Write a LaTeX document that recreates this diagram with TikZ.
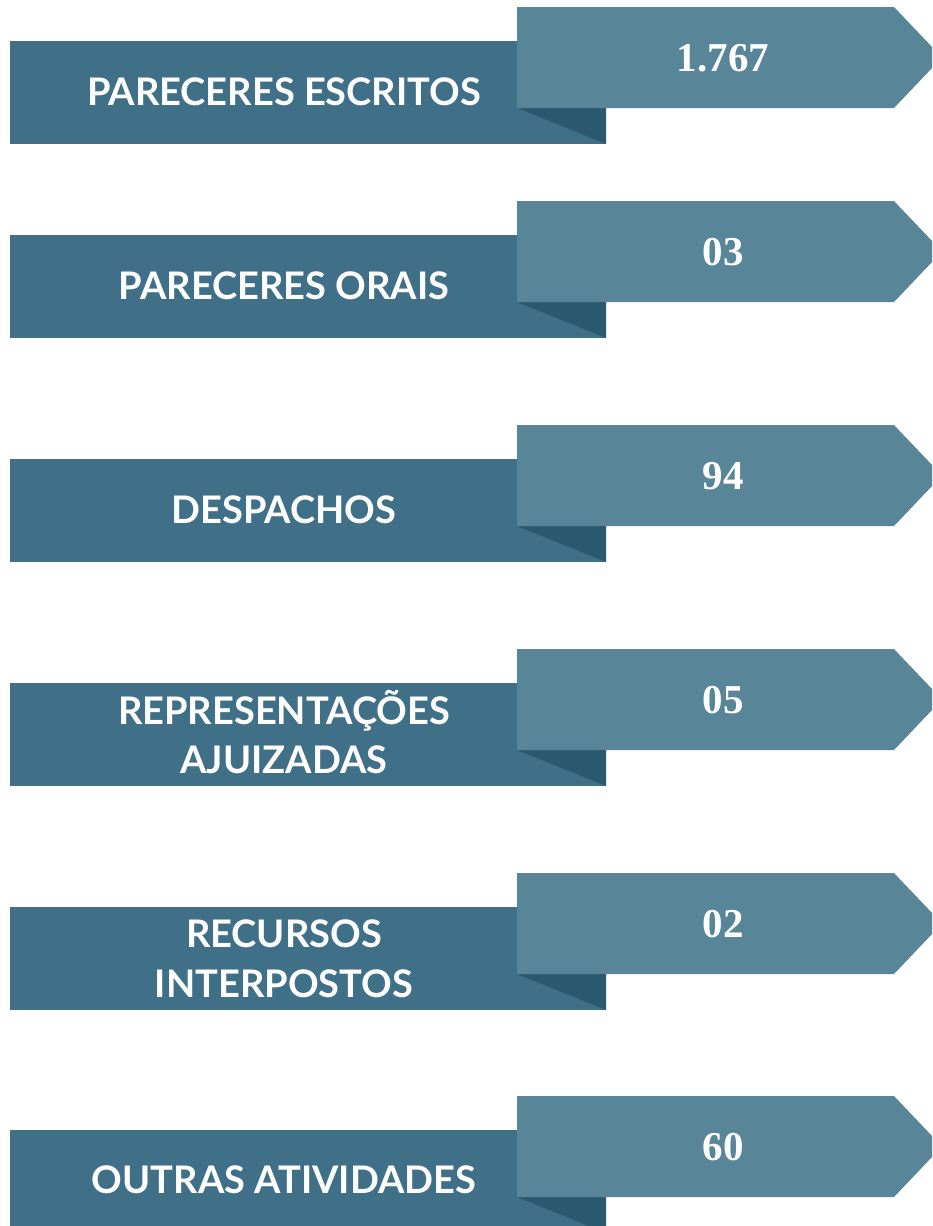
\documentclass[tikz,border=0pt]{standalone}
\usepackage{fontspec}
\newfontfamily\labfont{Lato Bold}
\newfontfamily\numfont{Liberation Serif Bold}
\definecolor{bandd}{HTML}{407088}
\definecolor{bandl}{HTML}{588597}
\definecolor{foldc}{HTML}{2B5A70}
\tikzset{
  lab/.style={anchor=base, text=white, align=center, font=\labfont\fontsize{38}{50}\selectfont, inner sep=0pt},
  num/.style={anchor=base, text=white, font=\numfont\fontsize{41}{44}\selectfont, inner sep=0pt},
}
\newcommand{\bandrow}[4]{%
  \fill[bandd] (10,#1+34) rectangle (606,#1+137);
  \fill[foldc] (517,#1+101) -- (606,#1+101) -- (606,#1+137) -- cycle;
  \fill[bandl] (517,#1) -- (894,#1) -- (942,#1+50.5) -- (894,#1+101) -- (517,#1+101) -- cycle;
  \node[lab] (lab#4) at (284,#1+#3) {#2};
}
\begin{document}
\begin{tikzpicture}[x=1pt,y=-1pt]
\useasboundingbox (0,0) rectangle (932,1226);
\clip (0,0) rectangle (932,1226);
\fill[white] (0,0) rectangle (932,1226);
\bandrow{7}{PARECERES ESCRITOS}{98}{a}
\node[num] (numa) at (723,7+64.7) {1.767};
\bandrow{201}{PARECERES ORAIS}{98}{b}
\node[num] (numb) at (723,201+64.7) {03};
\bandrow{425}{DESPACHOS}{98}{c}
\node[num] (numc) at (723,425+64.7) {94};
\bandrow{649}{REPRESENTAÇÕES}{75}{d}
\node[lab] (labd2) at (284,649+124) {AJUIZADAS};
\node[num] (numd) at (723,649+64.7) {05};
\bandrow{873}{RECURSOS}{74}{e}
\node[lab] (labe2) at (284,873+124) {INTERPOSTOS};
\node[num] (nume) at (723,873+64.7) {02};
\bandrow{1096}{OUTRAS ATIVIDADES}{97}{f}
\node[num] (numf) at (723,1096+64.7) {60};
\end{tikzpicture}
\end{document}
